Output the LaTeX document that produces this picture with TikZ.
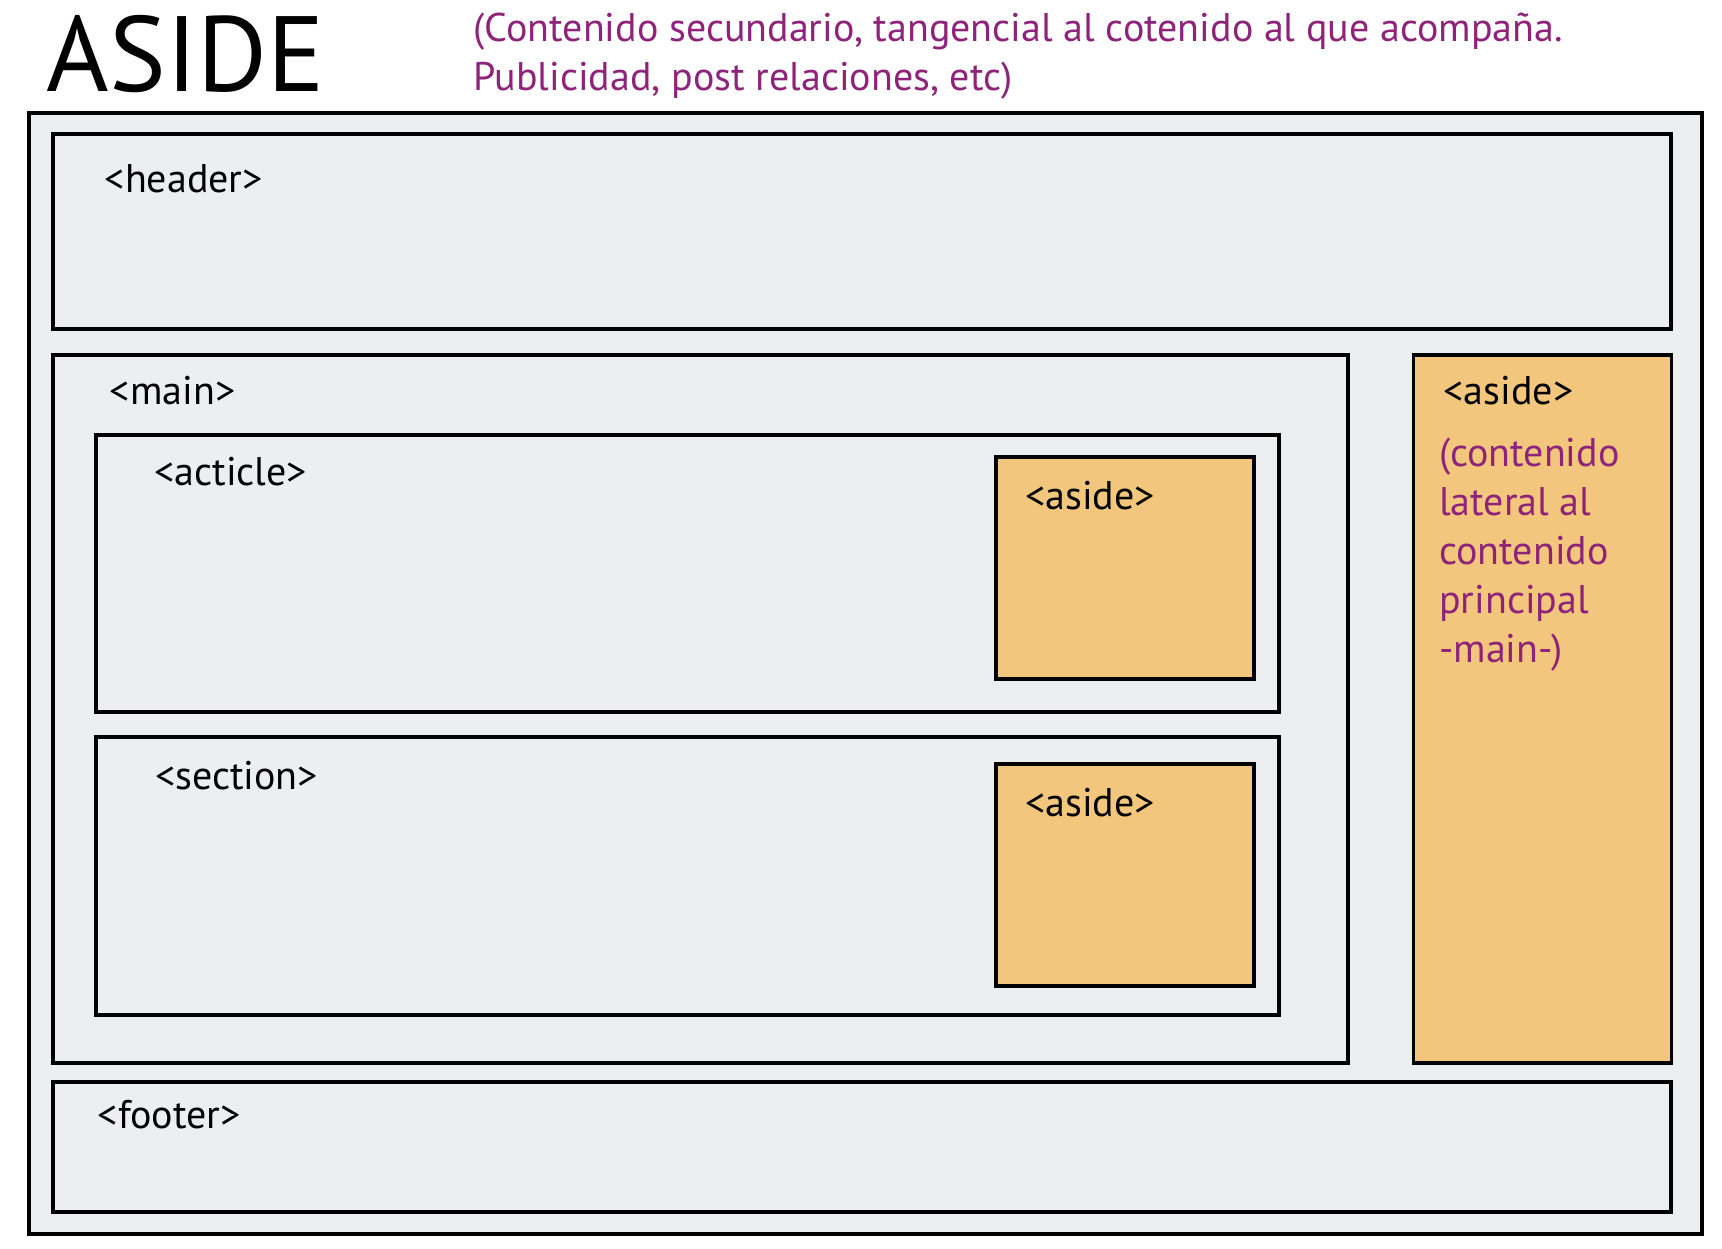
\documentclass[tikz,border=0pt]{standalone}
\usepackage{fontspec}
\setmainfont{PT Sans}
\definecolor{pagegray}{HTML}{EDEEF0}
\definecolor{asideorange}{HTML}{F3C67D}
\definecolor{notepurple}{HTML}{8E2479}
\begin{document}
\begin{tikzpicture}
[x=1pt, y=-1pt, line width=3.8pt, color=black,
 tag/.style={anchor=base west, inner sep=0pt, font=\fontsize{40}{49}\selectfont},
 note/.style={tag, text=notepurple}]
\useasboundingbox (0,0) rectangle (1722,1249);
% page and grey blocks
\draw[fill=pagegray] (28.7,112.7) rectangle (1701.7,1234);
\foreach \x/\y/\X/\Y in {52.7/134/1671.3/328.7, 52.7/354.7/1347.7/1063.3,
  96/434.7/1279.3/711.7, 96/736.7/1279.3/1015, 52.7/1081.7/1671.3/1212.3}
  \draw[fill=pagegray] (\x,\y) rectangle (\X,\Y);
% aside blocks
\foreach \x/\y/\X/\Y in {1413.5/354.7/1671.5/1063.3,
  995.7/457.3/1254.3/678.7, 995.7/764.3/1254.3/985.7}
  \draw[fill=asideorange] (\x,\y) rectangle (\X,\Y);
% title
\node[tag, font=\fontsize{107}{107}\selectfont] (title) at (45,91.7) {ASIDE};
\node[note] (intro1) at (471.7,42) {(Contenido secundario, tangencial al cotenido al que acompaña.};
\node[note] (intro2) at (471.7,90.7) {Publicidad, post relaciones, etc)};
% tags
\node[tag] (header)  at (103,193)      {<header>};
\node[tag] (main)    at (108,404)      {<main>};
\node[tag] (acticle) at (152.6,485)    {<acticle>};
\node[tag] (section) at (153.3,789.3)  {<section>};
\node[tag] (footer)  at (96,1128.3)    {<footer>};
\node[tag] (asideA)  at (1023.3,509.3) {<aside>};
\node[tag] (asideS)  at (1023.3,816.5) {<aside>};
\node[tag] (asideM)  at (1441.7,404)   {<aside>};
% side note
\foreach \t [count=\i] in {{(contenido}, lateral al, contenido, principal, {-main-)}}
  \node[note] (side\i) at (1437.3,417.7+49*\i) {\t};
\end{tikzpicture}
\end{document}
